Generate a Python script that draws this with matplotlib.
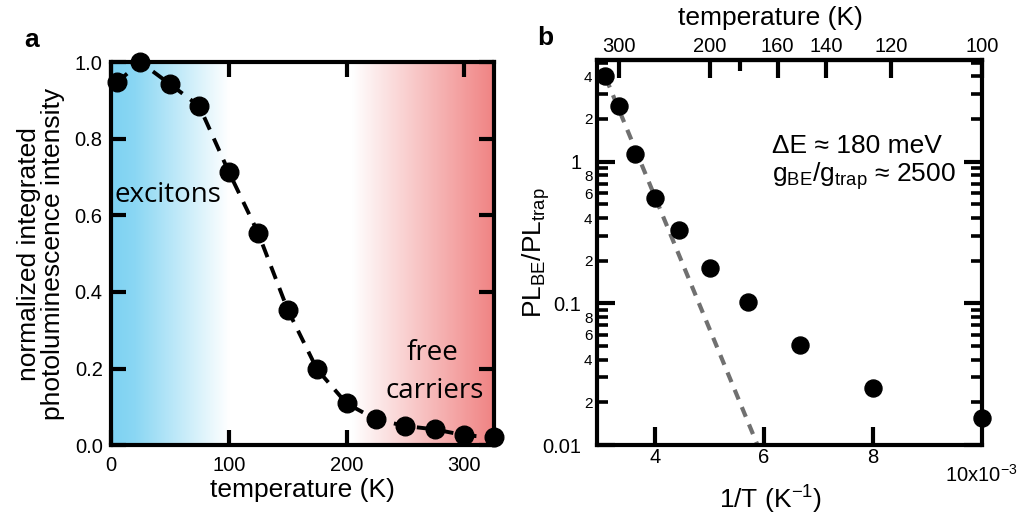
import numpy as np
import matplotlib.pyplot as plt
from matplotlib.colors import to_rgb
from matplotlib.ticker import FixedLocator, NullFormatter

plt.rcParams["font.family"] = ["Liberation Sans", "DejaVu Sans"]
plt.rcParams["mathtext.fontset"] = "custom"
plt.rcParams["mathtext.rm"] = "Liberation Sans"
plt.rcParams["mathtext.it"] = "Liberation Sans"

# panel a: integrated PL vs temperature
temp_a = [5, 25, 50, 75, 100, 125, 150, 175, 200, 225, 250, 275, 300, 325]
pl_norm = [0.947, 1.0, 0.943, 0.885, 0.714, 0.554, 0.354, 0.198, 0.109,
           0.067, 0.050, 0.041, 0.026, 0.020]

# panel b: PL_BE / PL_trap vs 1/T
temp_b = [325, 300, 275, 250, 225, 200, 175, 150, 125, 100]
ratio = [4.0, 2.47, 1.13, 0.552, 0.330, 0.177, 0.103, 0.0508, 0.0251, 0.0155]
fit_inv_t = [3.1e-3, 5.88e-3]
fit_ratio = [3.9, 0.01]

top_ticks = [300, 200, 160, 140, 120, 100]

fig = plt.figure(figsize=(10.18, 5.14), dpi=100)
ax1 = fig.add_axes([0.109, 0.134, 0.376, 0.745])
ax2 = fig.add_axes([0.586, 0.134, 0.379, 0.749])

FW = 3.0  # frame width
TICK_FS = 14.5
LABEL_FS = 19


def style_frame(ax):
    for s in ax.spines.values():
        s.set_linewidth(FW)


# ---- panel a ----
xmax_a = 325
tgrid = np.linspace(0, xmax_a, 600)
blue = np.array(to_rgb("#7dd2f2"))
red = np.array(to_rgb("#f08383"))
wb = np.interp(tgrid, [0, 20, 100], [1, 0.9, 0])
wr = np.interp(tgrid, [205, 325], [0, 1])
img = np.ones((1, len(tgrid), 3))
img[0] = 1 - wb[:, None] * (1 - blue) - wr[:, None] * (1 - red)
ax1.imshow(img, extent=[0, xmax_a, 0, 1], aspect="auto", zorder=0)

ax1.plot(temp_a, pl_norm, color="black", lw=2.8, dashes=(3.5, 2.5), zorder=2)
ax1.scatter(temp_a, pl_norm, s=180, color="black", zorder=3, clip_on=False)
ax1.set_xlim(0, xmax_a)
ax1.set_ylim(0, 1.0)
ax1.set_xticks([0, 100, 200, 300])
ax1.set_yticks([0, 0.2, 0.4, 0.6, 0.8, 1.0])
ax1.set_yticklabels(["0.0", "0.2", "0.4", "0.6", "0.8", "1.0"])
ax1.tick_params(direction="in", length=11, width=3, top=True, right=True,
                labelsize=TICK_FS)
ax1.tick_params(axis="x", pad=8)
ax1.tick_params(axis="y", pad=6)
style_frame(ax1)
ax1.set_xlabel("temperature (K)", fontsize=LABEL_FS)
ax1.xaxis.set_label_coords(0.5, -0.085)
ax1.set_ylabel("normalized integrated\nphotoluminescence intensity",
               fontsize=LABEL_FS, linespacing=1.0)
ax1.yaxis.set_label_coords(-0.12, 0.5)
ax1.text(3, 0.634, "excitons", fontsize=20, family="Open Sans")
ax1.text(273, 0.222, "free", fontsize=20, family="Open Sans", ha="center")
ax1.text(275, 0.123, "carriers", fontsize=20, family="Open Sans", ha="center")
fig.text(0.031, 0.922, "a", fontsize=19, fontweight="bold", ha="center", va="center")

# ---- panel b ----
inv_t = [1.0 / t for t in temp_b]
ax2.plot(fit_inv_t, fit_ratio, color="#707070", lw=3, dashes=(2.5, 2.0),
         zorder=2)
ax2.scatter(inv_t, ratio, s=150, color="black", zorder=3, clip_on=False)
ax2.set_yscale("log")
ax2.set_xlim(2.93e-3, 10e-3)
ax2.set_ylim(0.01, 5.2)

ax2.set_xticks([4e-3, 6e-3, 8e-3])
ax2.set_xticklabels(["4", "6", "8"])
ax2.set_yticks([0.01, 0.1, 1])
ax2.set_yticklabels(["0.01", "0.1", "1"])
minors = [m * d for d in (0.01, 0.1, 1) for m in range(2, 10)]
minors = [v for v in minors if v < 5.2]
ax2.yaxis.set_minor_locator(FixedLocator(minors))
minor_lab = {2: "2", 4: "4", 6: "6", 8: "8"}
ax2.yaxis.set_minor_formatter(plt.FuncFormatter(
    lambda v, p: minor_lab.get(int(round(v / 10 ** np.floor(np.log10(v) + 1e-9))), "")))
ax2.tick_params(which="major", direction="in", length=13, width=3,
                right=True, labelsize=TICK_FS)
ax2.tick_params(axis="y", which="major", pad=11)
ax2.tick_params(axis="x", which="major", pad=2)
ax2.tick_params(which="minor", direction="in", length=8, width=2.6,
                right=True, labelsize=11, pad=3)
ax2.tick_params(axis="x", which="minor", bottom=False, top=False)
style_frame(ax2)
fig.text(0.999, (514 - 475) / 514, "10x10$^{-3}$", fontsize=TICK_FS,
         ha="right", va="center")
ax2.set_xlabel("1/T (K$^{-1}$)", fontsize=LABEL_FS)
ax2.xaxis.set_label_coords(0.45, -0.1)
ax2.set_ylabel("PL$_{\\mathregular{BE}}$/PL$_{\\mathregular{trap}}$", fontsize=LABEL_FS)
ax2.yaxis.set_label_coords(-0.115, 0.5)
ax2.text(0.455, 0.758, "ΔE ≈ 180 meV", transform=ax2.transAxes, fontsize=19)
ax2.text(0.455, 0.683, "g$_{\\mathregular{BE}}$/g$_{\\mathregular{trap}}$ ≈ 2500",
         transform=ax2.transAxes, fontsize=19)

top = ax2.secondary_xaxis("top", functions=(lambda x: 1.0 / np.where(x == 0, 1e-9, x),
                                            lambda t: 1.0 / np.where(t == 0, 1e-9, t)))
top.set_xticks(top_ticks)
top.set_xticklabels([str(t) for t in top_ticks])
top.xaxis.set_minor_locator(FixedLocator([180]))
top.xaxis.set_minor_formatter(NullFormatter())
top.tick_params(which="major", direction="in", length=13, width=3,
                labelsize=TICK_FS, pad=3)
top.tick_params(which="minor", direction="in", length=8, width=3)
top.spines["top"].set_linewidth(FW)
fig.text(770 / 1018, (514 - 18) / 514, "temperature (K)", fontsize=LABEL_FS,
         ha="center", va="center")
fig.text(0.536, 0.926, "b", fontsize=19, fontweight="bold", ha="center", va="center")

fig.savefig("out.png", dpi=100)
